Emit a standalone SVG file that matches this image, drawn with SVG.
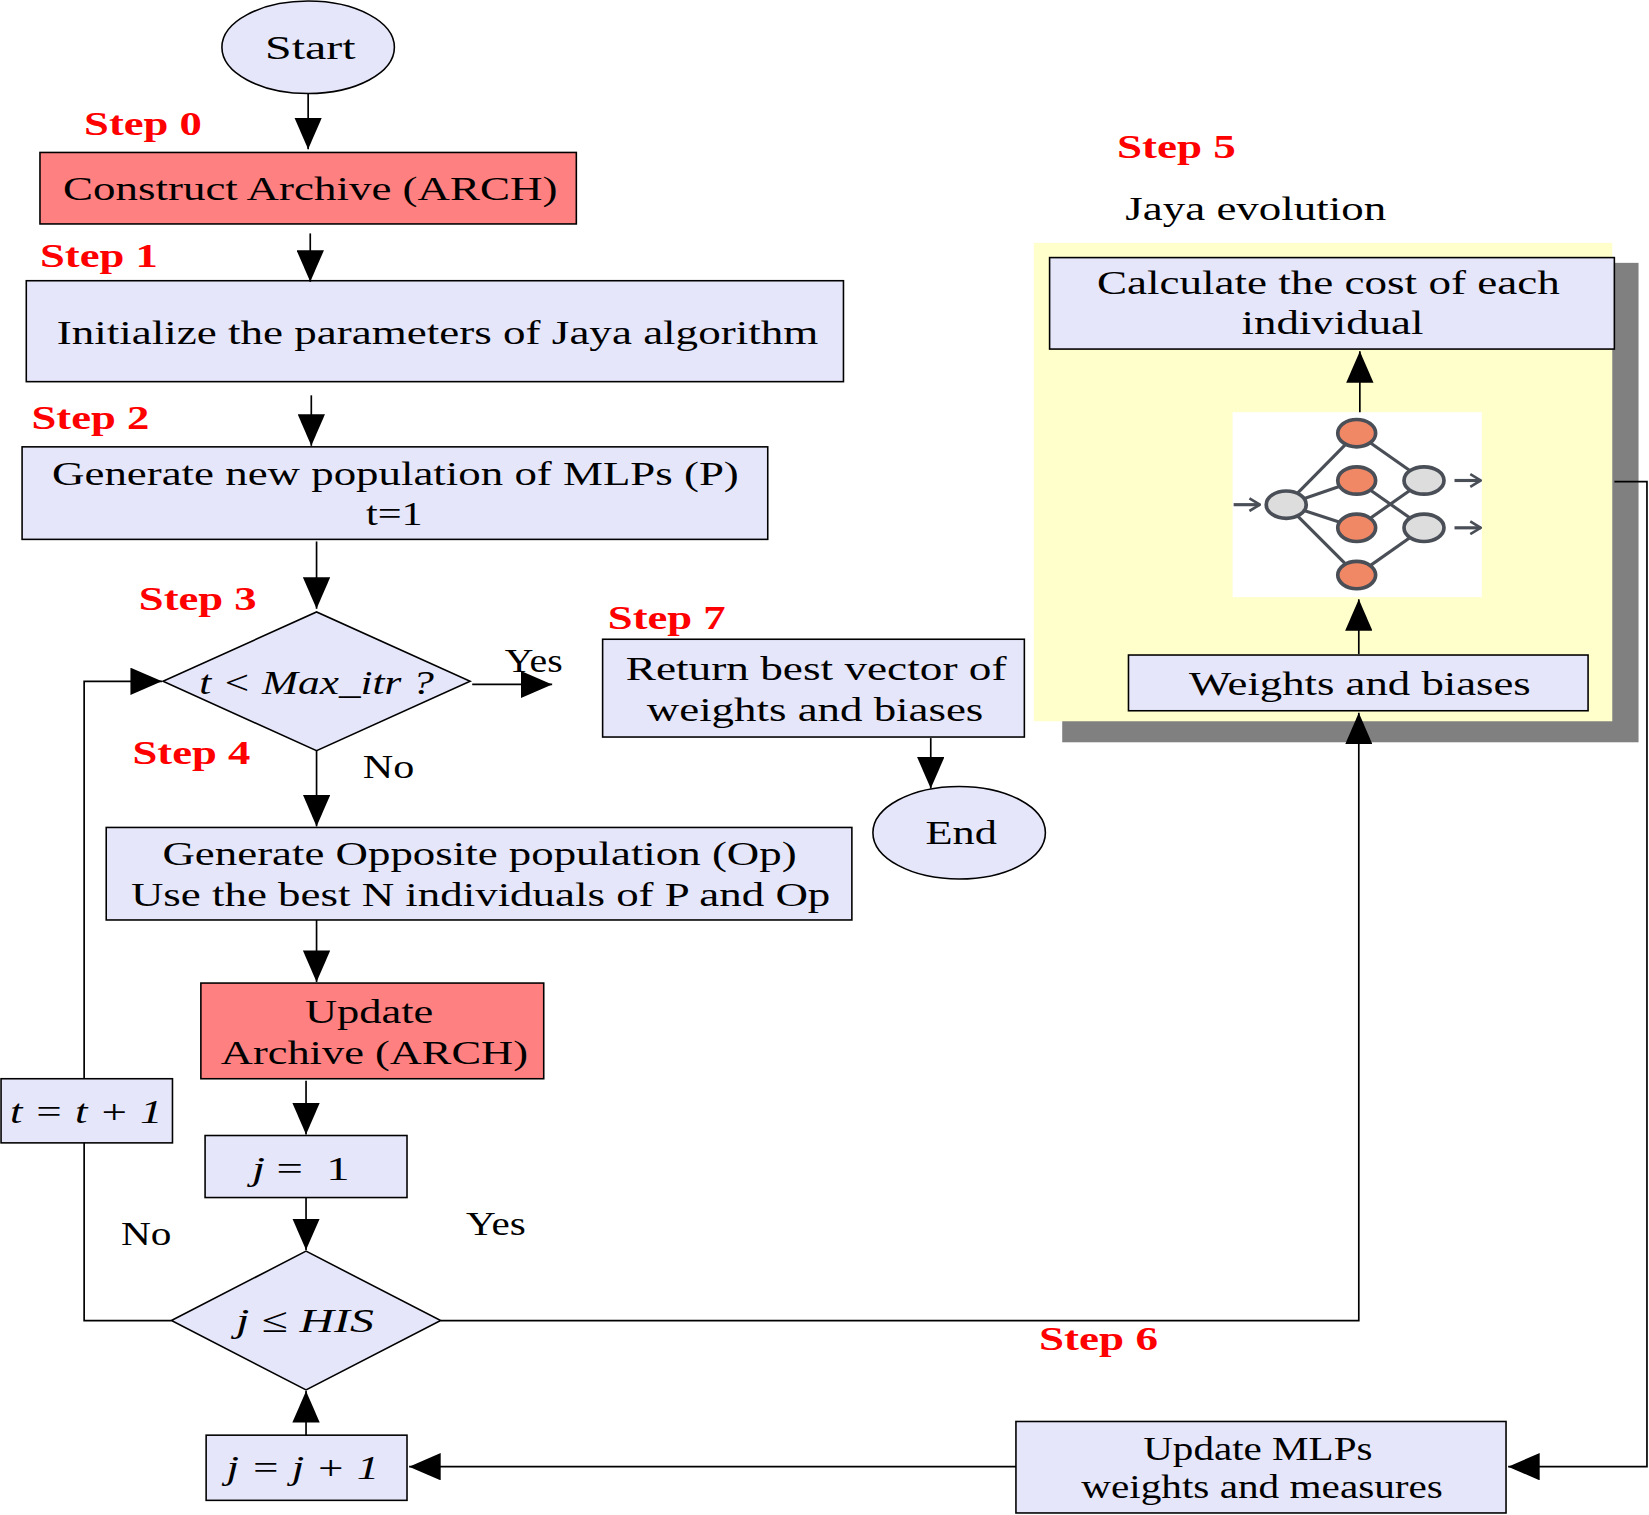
<svg xmlns="http://www.w3.org/2000/svg" width="1649" height="1515" viewBox="0 0 1649 1515">
<style>
.b{fill:#E6E6FA;stroke:#000;stroke-width:1.5}
.r{fill:#FF8080;stroke:#000;stroke-width:1.5}
text{font-family:"Liberation Serif",serif;font-size:33px;fill:#000;text-anchor:middle}
.s{fill:#FF0000;font-weight:bold;text-anchor:start}
.l{text-anchor:start}
.c path,.c line,.c polyline{fill:none;stroke:#000;stroke-width:1.6}
.nn line{stroke:#4a4f57;stroke-width:3}
.g{fill:#ddd;stroke:#4a4f57;stroke-width:3.5}
.o{fill:#F08866;stroke:#4a4f57;stroke-width:3.5}
</style>
<defs>
<marker id="a" markerUnits="userSpaceOnUse" markerWidth="32" markerHeight="26" refX="30" refY="13" orient="auto"><path d="M0,0L30,13L0,26z" fill="#000"/></marker>
<marker id="n" markerUnits="userSpaceOnUse" markerWidth="12" markerHeight="14" refX="11" refY="7" orient="auto"><path d="M1,1L11,7L1,13" fill="none" stroke="#4a4f57" stroke-width="2.5"/></marker>
</defs>
<rect width="1649" height="1515" fill="#fff"/>
<g transform="scale(1.0517,1.0514)">
<g id="jaya">
<rect x="1010" y="250" width="548" height="456" fill="#808080"/>
<rect x="983" y="231" width="550" height="455" fill="#FFFFCC"/>
<text class="s" x="1062" y="150" textLength="113" lengthAdjust="spacingAndGlyphs">Step 5</text>
<text class="l" x="1070" y="209" textLength="248" lengthAdjust="spacingAndGlyphs">Jaya evolution</text>
</g>
<g id="calc"><rect class="b" x="998" y="245" width="537" height="87"/><text x="1263" y="280" textLength="440" lengthAdjust="spacingAndGlyphs">Calculate the cost of each</text><text x="1267" y="318" textLength="173" lengthAdjust="spacingAndGlyphs">individual</text></g>
<g id="wb"><rect class="b" x="1073" y="623" width="437" height="53"/><text x="1293" y="661" textLength="325" lengthAdjust="spacingAndGlyphs">Weights and biases</text></g>
<g id="net" class="nn">
<rect x="1172" y="392" width="237" height="176" fill="#fff"/>
<line x1="1223" y1="480" x2="1290" y2="412"/><line x1="1223" y1="480" x2="1290" y2="457"/><line x1="1223" y1="480" x2="1290" y2="502"/><line x1="1223" y1="480" x2="1290" y2="547"/>
<line x1="1290" y1="412" x2="1354" y2="457"/><line x1="1290" y1="457" x2="1354" y2="502"/><line x1="1290" y1="502" x2="1354" y2="457"/><line x1="1290" y1="547" x2="1354" y2="502"/>
<ellipse class="g" cx="1223" cy="480" rx="19" ry="13"/>
<ellipse class="o" cx="1290" cy="412" rx="18" ry="13"/><ellipse class="o" cx="1290" cy="457" rx="18" ry="13"/><ellipse class="o" cx="1290" cy="502" rx="18" ry="13"/><ellipse class="o" cx="1290" cy="547" rx="18" ry="13"/>
<ellipse class="g" cx="1354" cy="457" rx="19" ry="13"/><ellipse class="g" cx="1354" cy="502" rx="19" ry="13"/>
<line x1="1173" y1="480" x2="1198" y2="480" marker-end="url(#n)"/><line x1="1383" y1="457" x2="1408" y2="457" marker-end="url(#n)"/><line x1="1383" y1="502" x2="1408" y2="502" marker-end="url(#n)"/>
</g>
<g id="start"><ellipse class="b" cx="293" cy="45" rx="82" ry="44"/><text x="295" y="56" textLength="86" lengthAdjust="spacingAndGlyphs">Start</text></g>
<text class="s" x="80" y="128" textLength="112" lengthAdjust="spacingAndGlyphs">Step 0</text>
<g id="arch"><rect class="r" x="38" y="145" width="510" height="68"/><text x="295" y="190" textLength="470" lengthAdjust="spacingAndGlyphs">Construct Archive (ARCH)</text></g>
<text class="s" x="38" y="254" textLength="112" lengthAdjust="spacingAndGlyphs">Step 1</text>
<g id="init"><rect class="b" x="25" y="267" width="777" height="96"/><text x="416" y="327" textLength="724" lengthAdjust="spacingAndGlyphs">Initialize the parameters of Jaya algorithm</text></g>
<text class="s" x="30" y="408" textLength="112" lengthAdjust="spacingAndGlyphs">Step 2</text>
<g id="gen"><rect class="b" x="21" y="425" width="709" height="88"/><text x="376" y="461" textLength="653" lengthAdjust="spacingAndGlyphs">Generate new population of MLPs (P)</text><text x="375" y="499" textLength="54" lengthAdjust="spacingAndGlyphs">t=1</text></g>
<text class="s" x="132" y="580" textLength="112" lengthAdjust="spacingAndGlyphs">Step 3</text>
<g id="cond1"><polygon class="b" points="155,648 301,582 447,648 301,714"/><text x="301" y="660" font-style="italic" textLength="223" lengthAdjust="spacingAndGlyphs">t &lt; Max_itr ?</text></g>
<text class="l" x="480" y="639" textLength="55" lengthAdjust="spacingAndGlyphs">Yes</text>
<text class="s" x="578" y="598" textLength="112" lengthAdjust="spacingAndGlyphs">Step 7</text>
<g id="ret"><rect class="b" x="573" y="608" width="401" height="93"/><text x="776" y="647" textLength="362" lengthAdjust="spacingAndGlyphs">Return best vector of</text><text x="775" y="686" textLength="320" lengthAdjust="spacingAndGlyphs">weights and biases</text></g>
<g id="end"><ellipse class="b" cx="912" cy="792" rx="82" ry="44"/><text x="914" y="803" textLength="68" lengthAdjust="spacingAndGlyphs">End</text></g>
<text class="s" x="126" y="727" textLength="112" lengthAdjust="spacingAndGlyphs">Step 4</text>
<text class="l" x="345" y="740" textLength="49" lengthAdjust="spacingAndGlyphs">No</text>
<g id="opp"><rect class="b" x="101" y="787" width="709" height="88"/><text x="456" y="823" textLength="603" lengthAdjust="spacingAndGlyphs">Generate Opposite population (Op)</text><text x="457" y="862" textLength="665" lengthAdjust="spacingAndGlyphs">Use the best N individuals of P and Op</text></g>
<g id="upd"><rect class="r" x="191" y="935" width="326" height="91"/><text x="351" y="973" textLength="122" lengthAdjust="spacingAndGlyphs">Update</text><text x="356" y="1012" textLength="292" lengthAdjust="spacingAndGlyphs">Archive (ARCH)</text></g>
<g id="j1"><rect class="b" x="195" y="1080" width="192" height="59"/><text x="286" y="1122" textLength="93" lengthAdjust="spacingAndGlyphs" xml:space="preserve"><tspan font-style="italic">j</tspan> =  1</text></g>
<g id="cond2"><polygon class="b" points="163,1256 291,1190 419,1256 291,1322"/><text x="290" y="1267" font-style="italic" textLength="131" lengthAdjust="spacingAndGlyphs">j ≤ HIS</text></g>
<text class="l" x="443" y="1175" textLength="57" lengthAdjust="spacingAndGlyphs">Yes</text>
<text class="l" x="115" y="1184" textLength="48" lengthAdjust="spacingAndGlyphs">No</text>
<g id="tinc"><rect class="b" x="1" y="1026" width="163" height="61"/><text x="82" y="1068" font-style="italic" textLength="145" lengthAdjust="spacingAndGlyphs">t = t + 1</text></g>
<text class="s" x="988" y="1284" textLength="113" lengthAdjust="spacingAndGlyphs">Step 6</text>
<g id="jinc"><rect class="b" x="196" y="1365" width="191" height="62"/><text x="288" y="1407" font-style="italic" textLength="145" lengthAdjust="spacingAndGlyphs">j = j + 1</text></g>
<g id="mlp"><rect class="b" x="966" y="1352" width="466" height="87"/><text x="1196" y="1389" textLength="218" lengthAdjust="spacingAndGlyphs">Update MLPs</text><text x="1200" y="1425" textLength="344" lengthAdjust="spacingAndGlyphs">weights and measures</text></g>
<g id="connectors" class="c">
<line x1="293" y1="89" x2="293" y2="142" marker-end="url(#a)"/>
<line x1="295" y1="222" x2="295" y2="268" marker-end="url(#a)"/>
<line x1="296" y1="376" x2="296" y2="424" marker-end="url(#a)"/>
<line x1="301" y1="515" x2="301" y2="579" marker-end="url(#a)"/>
<line x1="449" y1="651" x2="525" y2="651" marker-end="url(#a)"/>
<line x1="885" y1="702" x2="885" y2="750" marker-end="url(#a)"/>
<line x1="301" y1="714" x2="301" y2="786" marker-end="url(#a)"/>
<line x1="301" y1="875" x2="301" y2="934" marker-end="url(#a)"/>
<line x1="291" y1="1028" x2="291" y2="1079" marker-end="url(#a)"/>
<line x1="291" y1="1139" x2="291" y2="1189" marker-end="url(#a)"/>
<polyline points="419,1256 1292,1256 1292,678" marker-end="url(#a)"/>
<line x1="1292" y1="622" x2="1292" y2="570" marker-end="url(#a)"/>
<line x1="1293" y1="392" x2="1293" y2="334" marker-end="url(#a)"/>
<polyline points="163,1256 80,1256 80,1087"/>
<polyline points="80,1026 80,648 154,648" marker-end="url(#a)"/>
<line x1="291" y1="1365" x2="291" y2="1323" marker-end="url(#a)"/>
<line x1="966" y1="1395" x2="389" y2="1395" marker-end="url(#a)"/>
<polyline points="1535,458 1566,458 1566,1395 1434,1395" marker-end="url(#a)"/>
</g>
</g>
</svg>
